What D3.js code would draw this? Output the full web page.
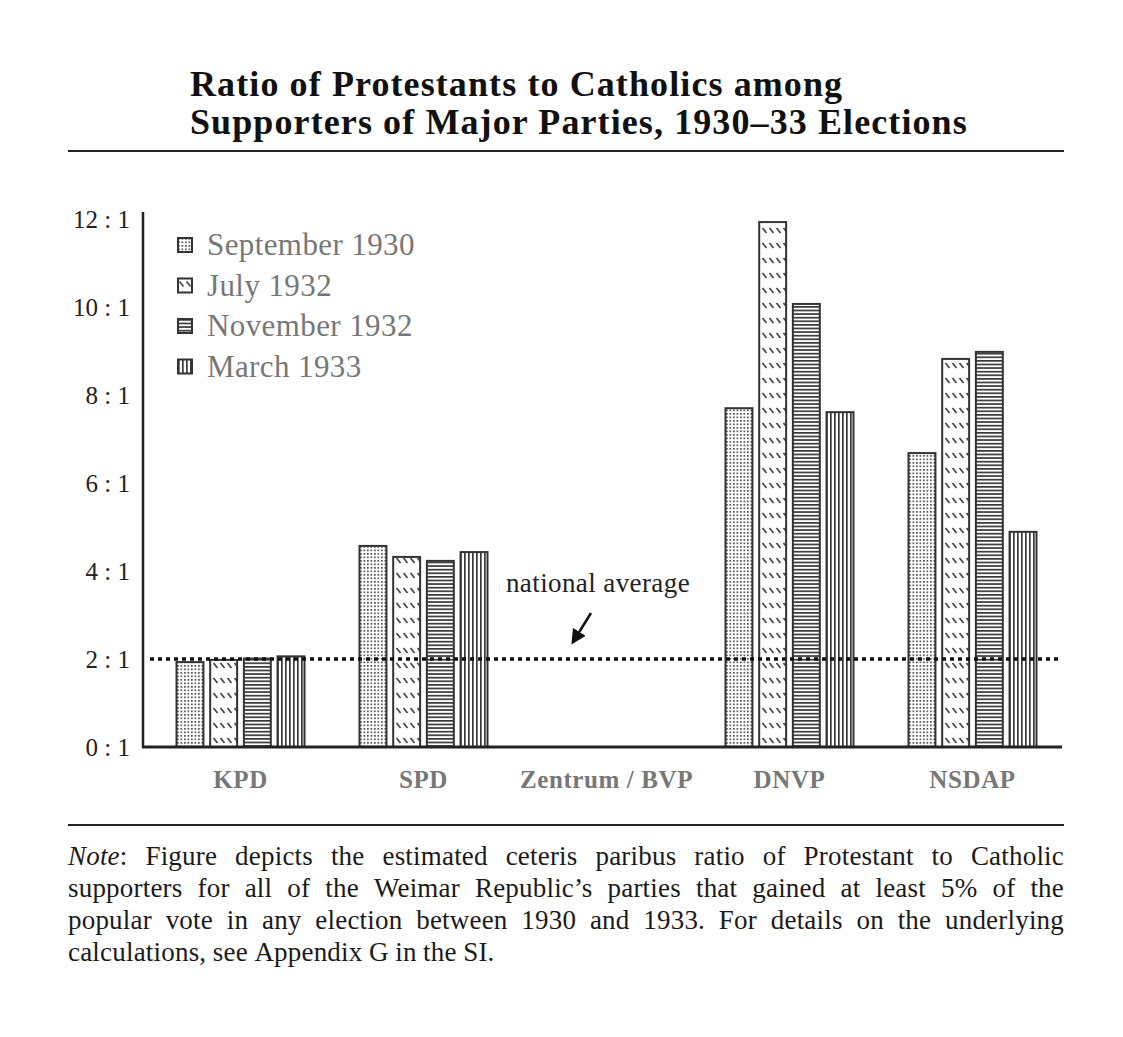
<!DOCTYPE html>
<html>
<head>
<meta charset="utf-8">
<script src="https://cdn.jsdelivr.net/npm/d3@7"></script>
<style>
  body { margin: 0; background: #fff; }
  svg { display: block; }
  text { font-family: "Liberation Serif", "Times New Roman", serif; }
</style>
</head>
<body>
<div id="chart"></div>
<script>
// datos
const parties = ['KPD', 'SPD', 'Zentrum / BVP', 'DNVP', 'NSDAP'];
const elections = ['September 1930', 'July 1932', 'November 1932', 'March 1933'];
const sept1930 = [1.93, 4.57, null, 7.7, 6.68];
const july1932 = [1.98, 4.32, null, 11.93, 8.82];
const nov1932 = [2.01, 4.23, null, 10.07, 8.98];
const march1933 = [2.06, 4.43, null, 7.61, 4.89];
const yTicks = [0, 2, 4, 6, 8, 10, 12];
const nationalAverage = 2;
const titleLines = ['Ratio of Protestants to Catholics among', 'Supporters of Major Parties, 1930\u201333 Elections'];
const noteLines = [
  'Figure depicts the estimated ceteris paribus ratio of Protestant to Catholic',
  'supporters for all of the Weimar Republic\u2019s parties that gained at least 5% of the',
  'popular vote in any election between 1930 and 1933. For details on the underlying',
  'calculations, see Appendix G in the SI.'
];

const series = [sept1930, july1932, nov1932, march1933];

const width = 1123;
const height = 1037;
const svg = d3.select('#chart').append('svg')
  .attr('width', width)
  .attr('height', height);

// patrones de relleno
const defs = svg.append('defs');
const pDots = defs.append('pattern').attr('id', 'p0')
  .attr('patternUnits', 'userSpaceOnUse').attr('width', 3.5).attr('height', 3.5);
pDots.append('rect').attr('width', 3.5).attr('height', 3.5).attr('fill', '#fff');
pDots.append('rect').attr('x', 0).attr('y', 0).attr('width', 1.7).attr('height', 1.7).attr('fill', '#555');

const pDash = defs.append('pattern').attr('id', 'p1')
  .attr('patternUnits', 'userSpaceOnUse').attr('width', 7).attr('height', 15);
pDash.append('rect').attr('width', 7).attr('height', 15).attr('fill', '#fff');
pDash.append('path').attr('d', 'M1.5,3 L5.5,8').attr('stroke', '#444').attr('stroke-width', 1.7);

const pHor = defs.append('pattern').attr('id', 'p2')
  .attr('patternUnits', 'userSpaceOnUse').attr('width', 4).attr('height', 3.6);
pHor.append('rect').attr('width', 4).attr('height', 3.6).attr('fill', '#fff');
pHor.append('rect').attr('y', 0).attr('width', 4).attr('height', 1.7).attr('fill', '#3a3a3a');

const pVer = defs.append('pattern').attr('id', 'p3')
  .attr('patternUnits', 'userSpaceOnUse').attr('width', 4).attr('height', 4);
pVer.append('rect').attr('width', 4).attr('height', 4).attr('fill', '#fff');
pVer.append('rect').attr('x', 0).attr('width', 1.7).attr('height', 4).attr('fill', '#3a3a3a');

// titulo
svg.append('g').selectAll('text')
  .data(titleLines)
  .enter().append('text')
  .attr('x', 190)
  .attr('y', (d, i) => 96 + i * 38)
  .attr('font-size', 36)
  .attr('letter-spacing', 1.1)
  .attr('font-weight', 'bold')
  .attr('fill', '#111')
  .text(d => d);

svg.append('line').attr('x1', 68).attr('x2', 1064).attr('y1', 151).attr('y2', 151)
  .attr('stroke', '#222').attr('stroke-width', 2);

// escalas
const x0 = d3.scaleBand().domain(parties).range([149, 1064]);
const half = 64;
const x1 = d3.scaleBand().domain(d3.range(elections.length))
  .range([x0.bandwidth() / 2 - half, x0.bandwidth() / 2 + half])
  .paddingInner(0.2);
const y = d3.scaleLinear().domain([0, 12]).range([747, 219]);

// barras
const groups = svg.append('g').selectAll('g')
  .data(parties)
  .enter().append('g')
  .attr('transform', d => `translate(${x0(d)},0)`);

groups.selectAll('rect')
  .data((d, pi) => series.map((s, si) => ({ si: si, v: s[pi] })).filter(e => e.v != null))
  .enter().append('rect')
  .attr('x', d => x1(d.si))
  .attr('width', x1.bandwidth())
  .attr('y', d => y(d.v))
  .attr('height', d => y(0) - y(d.v))
  .attr('fill', d => `url(#p${d.si})`)
  .attr('stroke', '#333')
  .attr('stroke-width', 2);

// linea de media nacional
svg.append('line')
  .attr('x1', 150).attr('x2', 1060)
  .attr('y1', y(nationalAverage)).attr('y2', y(nationalAverage))
  .attr('stroke', '#111').attr('stroke-width', 3.5)
  .attr('stroke-dasharray', '4 4');

// ejes
const yAxis = d3.axisLeft(y).tickValues(yTicks).tickSize(0).tickPadding(13)
  .tickFormat(d => d + ' : 1');
const gy = svg.append('g').attr('transform', 'translate(143,0)').call(yAxis);
gy.select('.domain').remove();
gy.selectAll('text').attr('font-size', 25).attr('fill', '#222')
  .attr('font-family', '"Liberation Serif", serif');
svg.append('line').attr('x1', 143).attr('x2', 143).attr('y1', 212).attr('y2', 748)
  .attr('stroke', '#222').attr('stroke-width', 2.5);

const xAxis = d3.axisBottom(x0).tickSize(0).tickPadding(23);
const gx = svg.append('g').attr('transform', `translate(0,${y(0)})`).call(xAxis);
gx.select('.domain').remove();
gx.selectAll('text').attr('font-size', 25).attr('font-weight', 'bold').attr('fill', '#777')
  .attr('letter-spacing', 0.6)
  .attr('font-family', '"Liberation Serif", serif');
svg.append('line').attr('x1', 142).attr('x2', 1062).attr('y1', y(0)).attr('y2', y(0))
  .attr('stroke', '#222').attr('stroke-width', 3);

// leyenda
const legend = svg.append('g').attr('transform', 'translate(178,238)');
const li = legend.selectAll('g').data(elections).enter().append('g')
  .attr('transform', (d, i) => `translate(0,${i * 40.5})`);
li.append('rect').attr('width', 14).attr('height', 14)
  .attr('fill', (d, i) => `url(#p${i})`)
  .attr('stroke', '#333').attr('stroke-width', 2);
li.append('text').attr('x', 29).attr('y', 17)
  .attr('font-size', 31).attr('fill', '#777')
  .attr('letter-spacing', 0.4)
  .text(d => d);

// anotacion
svg.append('text')
  .attr('x', 598).attr('y', y(nationalAverage) - 67)
  .attr('text-anchor', 'middle')
  .attr('font-size', 27).attr('fill', '#222')
  .attr('letter-spacing', 0.4)
  .text('national average');
defs.append('marker').attr('id', 'arrow')
  .attr('viewBox', '0 0 10 10').attr('refX', 8).attr('refY', 5)
  .attr('markerWidth', 6).attr('markerHeight', 6).attr('orient', 'auto')
  .append('path').attr('d', 'M0,0 L10,5 L0,10 z').attr('fill', '#111');
svg.append('line')
  .attr('x1', 591).attr('y1', y(nationalAverage) - 46)
  .attr('x2', 573).attr('y2', y(nationalAverage) - 17)
  .attr('stroke', '#111').attr('stroke-width', 2.5)
  .attr('marker-end', 'url(#arrow)');

// nota
svg.append('line').attr('x1', 68).attr('x2', 1064).attr('y1', 825).attr('y2', 825)
  .attr('stroke', '#222').attr('stroke-width', 2);

const noteLeft = 68;
const noteRight = 1064;
const noteG = svg.append('g');
noteLines.forEach((line, i) => {
  const yy = 865 + i * 32;
  const words = line.split(' ');
  if (i === 0) words.unshift('Note:');
  const nodes = words.map((w, wi) => {
    const t = noteG.append('text').attr('y', yy).attr('font-size', 27)
      .attr('letter-spacing', 0.2).attr('fill', '#1a1a1a');
    if (i === 0 && wi === 0) {
      t.append('tspan').attr('font-style', 'italic').text('Note');
      t.append('tspan').text(':');
    } else {
      t.text(w);
    }
    return t;
  });
  const widths = nodes.map(n => n.node().getComputedTextLength());
  const total = d3.sum(widths);
  const last = i === noteLines.length - 1;
  const space = last ? 6.5 : (noteRight - noteLeft - total) / (nodes.length - 1);
  let cx = noteLeft;
  nodes.forEach((n, k) => {
    n.attr('x', cx);
    cx += widths[k] + space;
  });
});
</script>
</body>
</html>
